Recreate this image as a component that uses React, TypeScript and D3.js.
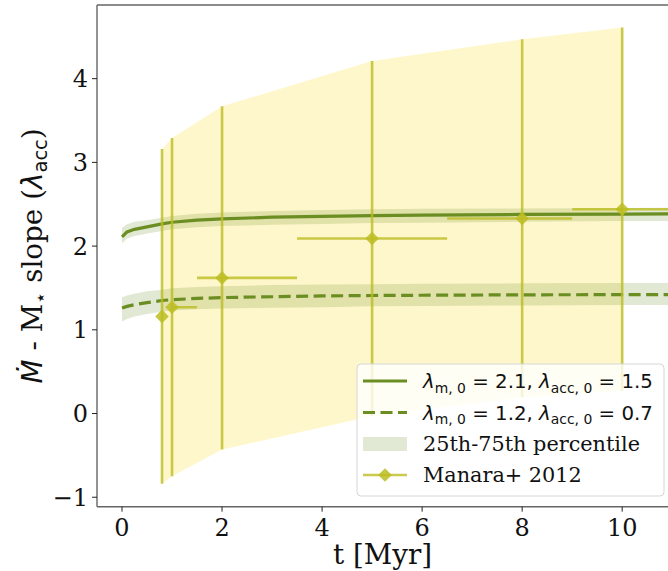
import React from "react";
import * as d3 from "d3";

const W = 668;
const H = 571;

// Axis ticks
const X_TICKS = [0, 2, 4, 6, 8, 10];
const Y_TICKS = [-1, 0, 1, 2, 3, 4];

// Model time grid [Myr]
const modelT = [0, 0.1, 0.25, 0.5, 0.8, 1, 1.5, 2, 3, 4, 5, 6, 8, 10, 11.5];

// lambda_m,0 = 2.1, lambda_acc,0 = 1.5 : median and 25th-75th percentile
const solidMed = [2.11, 2.17, 2.2, 2.23, 2.265, 2.285, 2.31, 2.325, 2.345, 2.355, 2.365, 2.37, 2.378, 2.383, 2.386];
const solidHi = [2.22, 2.26, 2.29, 2.31, 2.34, 2.36, 2.385, 2.4, 2.42, 2.43, 2.44, 2.445, 2.45, 2.455, 2.46];
const solidLo = [2.03, 2.09, 2.12, 2.15, 2.18, 2.2, 2.225, 2.24, 2.255, 2.265, 2.275, 2.28, 2.29, 2.3, 2.3];

// lambda_m,0 = 1.2, lambda_acc,0 = 0.7 : median and 25th-75th percentile
const dashedMed = [1.26, 1.28, 1.3, 1.325, 1.35, 1.36, 1.375, 1.385, 1.395, 1.405, 1.41, 1.413, 1.418, 1.42, 1.422];
const dashedHi = [1.39, 1.41, 1.43, 1.46, 1.48, 1.495, 1.51, 1.52, 1.535, 1.54, 1.545, 1.55, 1.555, 1.56, 1.56];
const dashedLo = [1.1, 1.13, 1.16, 1.19, 1.215, 1.23, 1.245, 1.255, 1.265, 1.27, 1.28, 1.285, 1.29, 1.295, 1.295];

// Manara et al. 2012 observed slopes
const manaraT = [0.8, 1, 2, 5, 8, 10];
const manaraY = [1.16, 1.27, 1.62, 2.09, 2.33, 2.44];
const manaraErr = [2.0, 2.02, 2.05, 2.12, 2.14, 2.17];
const manaraTLo = [0, 0, 0.5, 1.5, 1.5, 1.0];
const manaraTHi = [0, 0.5, 1.5, 1.5, 1.0, 1.0];

const GREEN = "#6b8e23";
const OLIVE = "#bcbd22";
const SERIF = "'DejaVu Serif', serif";
const SANS = "'DejaVu Sans', sans-serif";

function diamond(r: number) {
  return `M0,${-r}L${r},0L0,${r}L${-r},0Z`;
}

export default function App() {
  const x = d3.scaleLinear().domain([-0.5, 11]).range([97, 672.2]);
  const y = d3.scaleLinear().domain([-1.113, 4.88]).range([506.7, 5]);

  const idx = modelT.map((_, i) => i);
  const band = (lo: number[], hi: number[]) =>
    d3
      .area<number>()
      .x((i) => x(modelT[i]))
      .y0((i) => y(lo[i]))
      .y1((i) => y(hi[i]))(idx) as string;
  const line = (v: number[]) =>
    d3
      .line<number>()
      .x((i) => x(modelT[i]))
      .y((i) => y(v[i]))(idx) as string;

  const mIdx = manaraT.map((_, i) => i);
  const obsBand = d3
    .area<number>()
    .x((i) => x(manaraT[i]))
    .y0((i) => y(manaraY[i] - manaraErr[i]))
    .y1((i) => y(manaraY[i] + manaraErr[i]))(mIdx) as string;

  const left = x.range()[0];
  const right = x.range()[1];
  const top = y.range()[1];
  const bottom = y.range()[0];

  const legX = 357;
  const legY = 364;
  const rows = [381, 412.5, 444, 475];
  const hx0 = 363;
  const hx1 = 407;
  const tx = 423;
  const lfs = 20.8;
  const mfs = 19.8;
  const sub = 13.9;

  return (
    <svg
      width={W}
      height={H}
      style={{ position: "absolute", left: 0, top: 0, display: "block", background: "#fff" }}
    >
      <defs>
        <clipPath id="plotClip">
          <rect x={left} y={top} width={right - left} height={bottom - top} />
        </clipPath>
      </defs>

      <g clipPath="url(#plotClip)">
        {/* observed spread */}
        <path d={obsBand} fill="#ffd700" fillOpacity={0.2} />
        {/* percentile bands */}
        <path d={band(solidLo, solidHi)} fill={GREEN} fillOpacity={0.2} />
        <path d={band(dashedLo, dashedHi)} fill={GREEN} fillOpacity={0.2} />
        {/* medians */}
        <path d={line(solidMed)} fill="none" stroke={GREEN} strokeWidth={3.2} />
        <path
          d={line(dashedMed)}
          fill="none"
          stroke={GREEN}
          strokeWidth={3.2}
          strokeDasharray="12,5.5"
        />
        {/* Manara+ 2012 error bars */}
        <g stroke={OLIVE} strokeOpacity={0.8} strokeWidth={2.6}>
          {manaraT.map((t, i) => (
            <g key={i}>
              <line x1={x(t)} x2={x(t)} y1={y(manaraY[i] - manaraErr[i])} y2={y(manaraY[i] + manaraErr[i])} />
              {manaraTLo[i] + manaraTHi[i] > 0 && (
                <line x1={x(t - manaraTLo[i])} x2={x(t + manaraTHi[i])} y1={y(manaraY[i])} y2={y(manaraY[i])} />
              )}
            </g>
          ))}
        </g>
        {manaraT.map((t, i) => (
          <path
            key={i}
            d={diamond(6.8)}
            transform={`translate(${x(t)},${y(manaraY[i])})`}
            fill={OLIVE}
            fillOpacity={0.85}
          />
        ))}
      </g>

      {/* spines */}
      <g stroke="#666" strokeWidth={1.4} fill="none">
        <line x1={left} x2={left} y1={top} y2={bottom} />
        <line x1={left} x2={right} y1={bottom} y2={bottom} />
        <line x1={left} x2={right} y1={top} y2={top} />
        <line x1={right} x2={right} y1={top} y2={bottom} />
      </g>

      {/* x axis */}
      {X_TICKS.map((t) => (
        <g key={t} transform={`translate(${x(t)},0)`}>
          <line y1={bottom} y2={bottom + 5} stroke="#222" strokeWidth={1} />
          <text y={536} textAnchor="middle" fontFamily={SERIF} fontSize={24} fill="#111">
            {String(t)}
          </text>
        </g>
      ))}
      <text x={(left + right) / 2 - 2} y={564} textAnchor="middle" fontFamily={SERIF} fontSize={27.8} fill="#111">
        t [Myr]
      </text>

      {/* y axis */}
      {Y_TICKS.map((v) => (
        <g key={v} transform={`translate(0,${y(v)})`}>
          <line x1={left - 5} x2={left} stroke="#222" strokeWidth={1} />
          <text x={left - 9} y={8.5} textAnchor="end" fontFamily={SERIF} fontSize={24} fill="#111">
            {v < 0 ? `\u2212${Math.abs(v)}` : String(v)}
          </text>
        </g>
      ))}
      <text
        transform={`translate(42,${(top + bottom) / 2}) rotate(-90)`}
        textAnchor="middle"
        fontSize={27.8}
        fill="#111"
        style={{ whiteSpace: "pre" }}
      >
        <tspan fontFamily={SANS} fontStyle="italic">{"\u1E40"}</tspan>
        <tspan fontFamily={SERIF}>{" - M"}</tspan>
        <tspan fontFamily={SANS} fontSize={19.5} dy={5}>{"\u22C6"}</tspan>
        <tspan fontFamily={SERIF} dy={-5}>{" slope ("}</tspan>
        <tspan fontFamily={SANS} fontStyle="italic">{"\u03BB"}</tspan>
        <tspan fontFamily={SANS} fontSize={19.5} dy={5}>{"acc"}</tspan>
        <tspan fontFamily={SERIF} dy={-5}>{")"}</tspan>
      </text>

      {/* legend */}
      <rect
        x={legX}
        y={legY}
        width={307}
        height={132}
        rx={4}
        fill="#fff"
        fillOpacity={0.8}
        stroke="#d6d6d6"
        strokeWidth={1}
      />
      <line x1={hx0} x2={hx1} y1={rows[0]} y2={rows[0]} stroke={GREEN} strokeWidth={3.2} />
      <line x1={hx0} x2={hx1} y1={rows[1]} y2={rows[1]} stroke={GREEN} strokeWidth={3.2} strokeDasharray="12,5.5" />
      <rect x={hx0} y={rows[2] - 7} width={hx1 - hx0} height={14} fill={GREEN} fillOpacity={0.2} />
      <line x1={hx0} x2={hx1} y1={rows[3]} y2={rows[3]} stroke={OLIVE} strokeOpacity={0.8} strokeWidth={2.6} />
      <path d={diamond(6.8)} transform={`translate(${(hx0 + hx1) / 2},${rows[3]})`} fill={OLIVE} fillOpacity={0.85} />

      {[
        ["2.1", "1.5"],
        ["1.2", "0.7"],
      ].map(([m, a], k) => (
        <text key={k} x={tx} y={rows[k] + 7} fontFamily={SANS} fontSize={mfs} fill="#111" style={{ whiteSpace: "pre" }}>
          <tspan fontStyle="italic">{"\u03BB"}</tspan>
          <tspan fontSize={sub} dy={4.5}>{"m, 0"}</tspan>
          <tspan dy={-4.5}>{` = ${m}, `}</tspan>
          <tspan fontStyle="italic">{"\u03BB"}</tspan>
          <tspan fontSize={sub} dy={4.5}>{"acc, 0"}</tspan>
          <tspan dy={-4.5}>{` = ${a}`}</tspan>
        </text>
      ))}
      <text x={tx} y={rows[2] + 7} fontFamily={SERIF} fontSize={lfs} fill="#111">
        25th-75th percentile
      </text>
      <text x={tx} y={rows[3] + 7} fontFamily={SERIF} fontSize={lfs} fill="#111">
        Manara+ 2012
      </text>
    </svg>
  );
}
